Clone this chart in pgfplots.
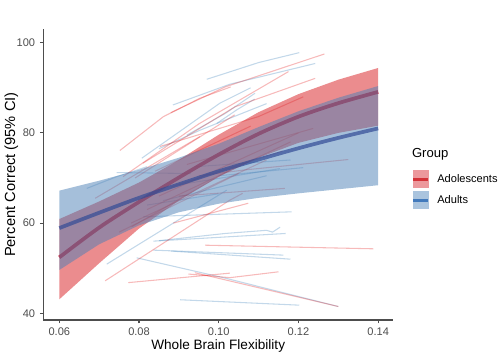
\documentclass[border=0pt]{standalone}
\usepackage{pgfplots}
\pgfplotsset{compat=1.18}
\usepackage{fontspec}
\setmainfont{Liberation Sans}
\definecolor{rthin}{RGB}{228,26,28}
\definecolor{bthin}{RGB}{55,126,184}
\definecolor{rrib}{RGB}{215,25,30}
\definecolor{brib}{RGB}{75,128,182}
\definecolor{rfit}{RGB}{200,20,40}
\definecolor{bfit}{RGB}{50,75,150}
\definecolor{axcol}{RGB}{77,77,77}
\definecolor{lrbg}{RGB}{236,152,156}
\definecolor{lrline}{RGB}{212,50,56}
\definecolor{lbbg}{RGB}{170,196,222}
\definecolor{lbline}{RGB}{66,122,188}
\tikzset{
  thinR/.style={draw=rthin, draw opacity=0.3, line width=0.8pt},
  thinB/.style={draw=bthin, draw opacity=0.3, line width=0.8pt},
}
\begin{document}
\begin{tikzpicture}
\useasboundingbox (-32.5pt,-31.5pt) rectangle (345.5pt,240pt);
\begin{axis}[
  scale only axis,
  width=262.3pt, height=218pt,
  xmin=0.05599, xmax=0.14374,
  ymin=38.51, ymax=102.97,
  axis lines*=left,
  axis line style={draw=axcol, line width=0.9pt},
  tick align=outside,
  major tick length=2.6pt,
  tick style={draw=axcol, line width=0.8pt},
  xtick={0.06,0.08,0.10,0.12,0.14},
  xticklabels={0.06,0.08,0.10,0.12,0.14},
  ytick={40,60,80,100},
  yticklabels={40,60,80,100},
  ticklabel style={font=\fontsize{8.3}{10}\selectfont, text=axcol},
  xlabel={Whole Brain Flexibility},
  ylabel={Percent Correct (95\% CI)},
  xlabel style={font=\fontsize{10.2}{12}\selectfont, at={(axis description cs:0.5,-0.1032)}, anchor=base},
  ylabel style={font=\fontsize{11}{13}\selectfont, at={(axis description cs:-0.081,0.5)}, anchor=base},
  clip mode=individual,
  legend style={at={(axis description cs:1.0535,0.515)}, anchor=north west, draw=none, fill=none,
    inner sep=0pt, outer sep=0pt, row sep=2.6pt, font=\fontsize{8.3}{10}\selectfont,
    nodes={inner sep=0pt},
    /tikz/every odd column/.append style={column sep=5.7pt}},
  legend cell align=left,
]
% ---- individual participant lines: adults (blue) ----
\addplot[thinB, forget plot] coordinates {(0.097,91.9) (0.1016,93.2) (0.110,95.6) (0.1202,97.8)};
\addplot[thinB, forget plot] coordinates {(0.0885,86.2) (0.1028,90.8) (0.1242,95.4)};
\addplot[thinB, forget plot] coordinates {(0.0807,74.4) (0.1003,86.6) (0.108,90.0)};
\addplot[thinB, forget plot] coordinates {(0.085,76.5) (0.0953,80.6) (0.112,86.5)};
\addplot[thinB, forget plot] coordinates {(0.0669,67.7) (0.0744,70.3) (0.082,72.5)};
\addplot[thinB, forget plot] coordinates {(0.0719,50.9) (0.102,67.3)};
\addplot[thinB, forget plot] coordinates {(0.0794,52.3) (0.1016,47.8) (0.13,41.5)};
\addplot[thinB, forget plot] coordinates {(0.085,56.1) (0.1016,57.7) (0.112,58.4) (0.1135,58.0) (0.1154,59.1)};
\addplot[thinB, forget plot] coordinates {(0.0836,56.0) (0.1168,57.7)};
\addplot[thinB, forget plot] coordinates {(0.0836,54.0) (0.1162,52.9)};
\addplot[thinB, forget plot] coordinates {(0.088,53.8) (0.118,52.0)};
\addplot[thinB, forget plot] coordinates {(0.0903,43.0) (0.1202,41.8)};
\addplot[thinB, forget plot] coordinates {(0.0811,61.4) (0.1183,62.5)};
\addplot[thinB, forget plot] coordinates {(0.0744,71.2) (0.093,71.0)};
\addplot[thinB, forget plot] coordinates {(0.09,68.5) (0.1154,72.1)};
\addplot[thinB, forget plot] coordinates {(0.092,79.5) (0.1016,84.3) (0.1091,88.8)};
\addplot[thinB, forget plot] coordinates {(0.086,65.0) (0.112,70.5)};
\addplot[thinB, forget plot] coordinates {(0.094,72.5) (0.118,74.0)};
\addplot[thinB, forget plot] coordinates {(0.082,64.0) (0.10,66.5)};
\addplot[thinB, forget plot] coordinates {(0.10,70.5) (0.1212,72.3)};
\addplot[thinB, forget plot] coordinates {(0.0995,82.1) (0.1045,85.1) (0.109,87.5)};
% ---- individual participant lines: adolescents (red) ----
\addplot[thinR, forget plot] coordinates {(0.0752,76.1) (0.0861,83.6) (0.0953,87.7) (0.103,90.2)};
\addplot[thinR, forget plot] coordinates {(0.088,84.5) (0.1016,90.2) (0.1265,97.5)};
\addplot[thinR, forget plot] coordinates {(0.081,73.3) (0.1041,85.8) (0.1242,92.1)};
\addplot[thinR, forget plot] coordinates {(0.076,70.3) (0.095,82.0) (0.1175,93.6)};
\addplot[thinR, forget plot] coordinates {(0.0853,77.0) (0.1099,83.6) (0.1212,88.0)};
\addplot[thinR, forget plot] coordinates {(0.095,70.5) (0.1066,71.8) (0.1325,74.1)};
\addplot[thinR, forget plot] coordinates {(0.092,73.0) (0.1237,81.0)};
\addplot[thinR, forget plot] coordinates {(0.0966,55.1) (0.1388,54.3)};
\addplot[thinR, forget plot] coordinates {(0.0924,48.7) (0.1028,47.9) (0.1085,48.5) (0.115,49.2)};
\addplot[thinR, forget plot] coordinates {(0.0773,46.8) (0.1028,48.9)};
\addplot[thinR, forget plot] coordinates {(0.094,49.0) (0.13,41.5)};
\addplot[thinR, forget plot] coordinates {(0.0715,47.2) (0.1028,65.1) (0.106,66.6)};
\addplot[thinR, forget plot] coordinates {(0.069,65.5) (0.0953,79.2)};
\addplot[thinR, forget plot] coordinates {(0.0886,60.0) (0.1074,64.4)};
\addplot[thinR, forget plot] coordinates {(0.09,66.0) (0.1166,67.7)};
\addplot[thinR, forget plot] coordinates {(0.078,60.0) (0.112,74.0)};
\addplot[thinR, forget plot] coordinates {(0.082,63.0) (0.118,78.0)};
\addplot[thinR, forget plot] coordinates {(0.085,66.0) (0.12,80.0)};
\addplot[thinR, forget plot] coordinates {(0.075,58.0) (0.105,71.0)};
\addplot[thinR, forget plot] coordinates {(0.088,68.0) (0.116,76.0)};
\addplot[thinR, forget plot] coordinates {(0.079,70.0) (0.104,84.0)};
\addplot[thinR, forget plot] coordinates {(0.084,71.5) (0.108,81.5)};
\addplot[thinR, forget plot] coordinates {(0.0782,59.2) (0.1028,71.8)};
% ---- adolescents ribbon and fit ----
\addplot[draw=none, fill=rrib, fill opacity=0.5, forget plot] coordinates {
 (0.06,60.9) (0.07,64.8) (0.08,69.0) (0.09,74.0) (0.10,79.6) (0.11,84.6) (0.12,88.6) (0.13,91.8) (0.14,94.4)
 (0.14,81.6) (0.13,80.0) (0.12,77.8) (0.11,74.5) (0.10,70.3) (0.09,65.0) (0.08,58.8) (0.07,51.1) (0.06,43.1)} -- cycle;
\addplot[draw=rfit, draw opacity=0.85, line width=2.8pt, smooth, forget plot] coordinates {
 (0.06,52.4) (0.07,59.0) (0.08,64.7) (0.09,70.1) (0.10,75.2) (0.11,79.8) (0.12,83.6) (0.13,86.6) (0.14,89.1)};
% ---- adults ribbon and fit ----
\addplot[draw=none, fill=brib, fill opacity=0.5, forget plot] coordinates {
 (0.06,67.2) (0.07,69.4) (0.08,71.8) (0.09,74.5) (0.10,77.6) (0.11,81.3) (0.12,84.8) (0.13,87.8) (0.14,90.4)
 (0.14,68.4) (0.13,67.5) (0.12,66.6) (0.11,65.6) (0.10,64.3) (0.09,62.4) (0.08,59.5) (0.07,55.3) (0.06,49.6)} -- cycle;
\addplot[draw=bfit, draw opacity=0.7, line width=2.8pt, smooth, forget plot] coordinates {
 (0.06,58.9) (0.07,62.3) (0.08,65.6) (0.09,68.6) (0.10,71.5) (0.11,74.1) (0.12,76.6) (0.13,78.9) (0.14,81.0)};
% ---- legend ----
\addlegendimage{legend image code/.code={\fill[lrbg] (0pt,-6.4pt) rectangle (11.25pt,6.4pt); \draw[lrline, line width=2.2pt] (0pt,0pt) -- (11.25pt,0pt);}}
\addlegendentry{Adolescents}
\addlegendimage{legend image code/.code={\fill[lbbg] (0pt,-6.4pt) rectangle (11.25pt,6.4pt); \draw[lbline, line width=2.2pt] (0pt,0pt) -- (11.25pt,0pt);}}
\addlegendentry{Adults}
\node[anchor=base west, font=\fontsize{9.8}{12}\selectfont, inner sep=0pt] at (axis description cs:1.0535,0.558) {Group};
\end{axis}
\end{tikzpicture}
\end{document}
